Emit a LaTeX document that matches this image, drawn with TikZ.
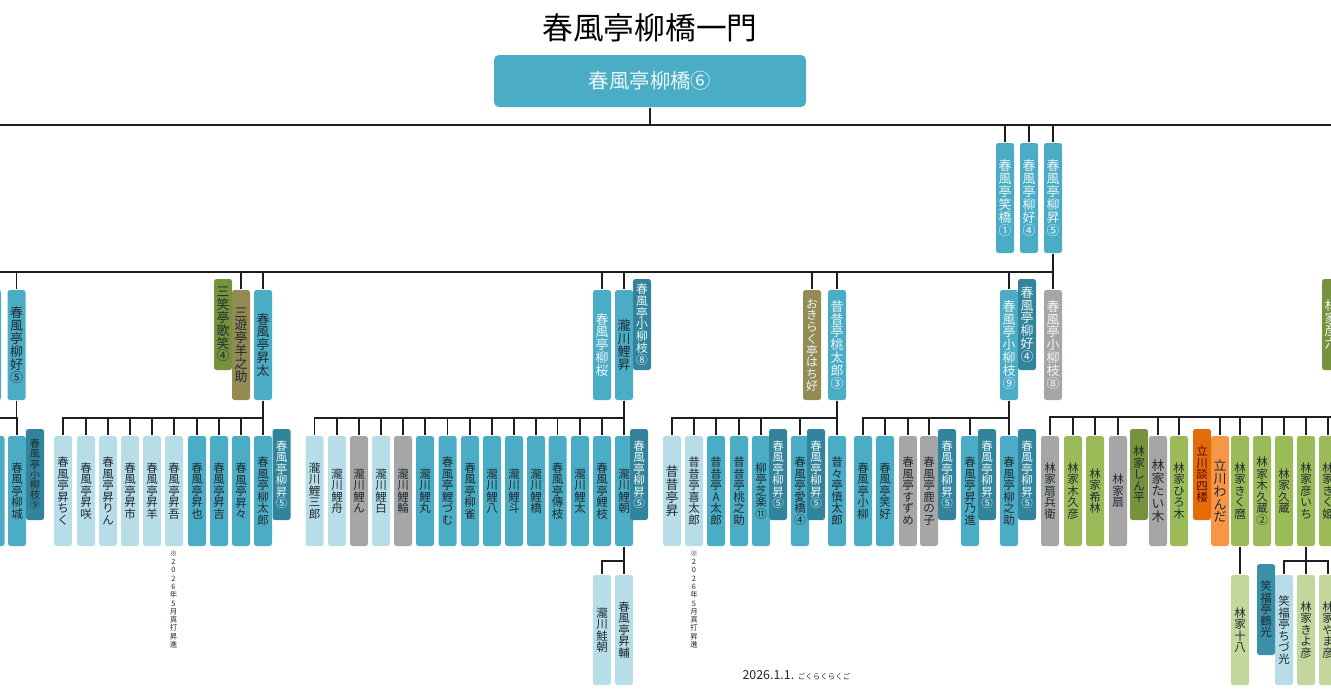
\documentclass[tikz,border=0pt]{standalone}
\usepackage{fontspec}
\setmainfont{Noto Sans CJK JP}

\definecolor{kblue}{HTML}{4BACC6}
\definecolor{kdeep}{HTML}{31849B}
\definecolor{klight}{HTML}{B7DDE8}
\definecolor{kgray}{HTML}{A6A6A6}
\definecolor{kgreen}{HTML}{9BBB59}
\definecolor{kpale}{HTML}{C3D69B}
\definecolor{kolive}{HTML}{76923C}
\definecolor{kbrown}{HTML}{948A54}
\definecolor{korange}{HTML}{F79646}
\definecolor{kdark}{HTML}{E36C09}
\definecolor{kink}{HTML}{202A30}
\definecolor{kline}{HTML}{1E1E1E}

% one glyph per line
\makeatletter
\newcommand{\tate}[1]{\vbox{\lineskiplimit=-100pt\lineskip=0pt
  \@tfor\tatechar:=#1\do{\hbox to 1em{\hss\tatechar\hss}}}}
\makeatother

\tikzset{
  memb/.style={rectangle, rounded corners=2.5pt, minimum width=18, minimum height=110,
    inner sep=0, text=kink, font=\fontsize{11.5}{11.5}\selectfont},
  side/.style={memb, minimum height=91},
  big/.style={font=\fontsize{12.9}{12.9}\selectfont},
  tight/.style={font=\fontsize{10.2}{10.2}\selectfont},
  mid/.style={font=\fontsize{11.7}{11.7}\selectfont},
  pale/.style={text=white!90!kblue},
  bus/.style={to path={(\tikztostart.south) -- ++(0,#1) -| (\tikztotarget.north)}},
  drop/.style={to path={(\tikztostart) -| (\tikztotarget.north)}},
  note/.style={inner sep=0, text=kink, font=\fontsize{7.4}{8.3}\selectfont}
}

\begin{document}
\begin{tikzpicture}[x=1pt, y=-1pt, line width=1.5pt, draw=kline]
  \path [use as bounding box, clip] (0,0) rectangle (1331,696);

  \node (title) [inner sep=0, font=\fontsize{30.7}{31}\selectfont] at (650,28) {春風亭柳橋一門};
  \node (root) [rectangle, rounded corners=5pt, fill=kblue, pale, minimum width=312,
    minimum height=52, inner sep=0, font=\fontsize{20.4}{21}\selectfont] at (650,81) {春風亭柳橋⑥};
  \node (stamp) [inner sep=0, text=kink] at (796.5,675.5)
    {\fontsize{12.4}{12}\selectfont 2026.1.1. \fontsize{7.5}{12}\selectfont ごくらくらくご};

  % first row
  \node (shokyo1) [memb, big, pale, fill=kblue] at (1005,198) {\tate{春風亭笑橋①}};
  \node (ryuko4) [memb, big, pale, fill=kblue] at (1029,198) {\tate{春風亭柳好④}};
  \node (ryusho5) [memb, big, pale, fill=kblue] at (1053,198) {\tate{春風亭柳昇⑤}};

  % second row
  \node (edge2) [memb, fill=kblue] at (-8,345) {};
  \node (ryuko5) [memb, big, fill=kblue] at (16.5,345) {\tate{春風亭柳好⑤}};
  \node (yonosuke) [memb, big, fill=kbrown] at (241,345) {\tate{三遊亭羊之助}};
  \node (shota) [memb, big, fill=kblue] at (263,345) {\tate{春風亭昇太}};
  \node (ryuo) [memb, big, pale, fill=kblue] at (602,345) {\tate{春風亭柳桜}};
  \node (risho) [memb, big, fill=kblue] at (624,345) {\tate{瀧川鯉昇}};
  \node (hachiko) [memb, mid, pale, fill=kbrown] at (812,345) {\tate{おきらく亭はち好}};
  \node (momotaro) [memb, big, pale, fill=kblue] at (837,345) {\tate{昔昔亭桃太郎③}};
  \node (koryu9) [memb, big, pale, fill=kblue] at (1009,345) {\tate{春風亭小柳枝⑨}};
  \node (koryu8) [memb, big, pale, fill=kgray] at (1053,345) {\tate{春風亭小柳枝⑧}};

  \node (kasho4) [side, big, fill=kolive] at (223,324.5) {\tate{三笑亭歌笑④}};
  \node (s2koryu8) [side, mid, pale, fill=kdeep] at (642,324.5) {\tate{春風亭小柳枝⑧}};
  \node (s2ryuko4) [side, big, pale, fill=kdeep] at (1027,324.5) {\tate{春風亭柳好④}};
  \node (hikoroku) [side, big, pale, fill=kolive] at (1331,324.5) {\tate{林家彦六}};

  % third row, ryuko
  \node (edge3) [memb, fill=kblue] at (-4.5,491) {};
  \node (ryujo) [memb, fill=kblue] at (17,491) {\tate{春風亭柳城}};
  % third row, shota
  \node (chiku) [memb, fill=klight] at (63,491) {\tate{春風亭昇ちく}};
  \node (shosaku) [memb, fill=klight] at (86,491) {\tate{春風亭昇咲}};
  \node (shorin) [memb, fill=klight] at (108,491) {\tate{春風亭昇りん}};
  \node (shoichi) [memb, fill=klight] at (130,491) {\tate{春風亭昇市}};
  \node (shoyo) [memb, fill=klight] at (152,491) {\tate{春風亭昇羊}};
  \node (shogo) [memb, fill=klight] at (174,491) {\tate{春風亭昇吾}};
  \node (shoya) [memb, fill=kblue] at (197,491) {\tate{春風亭昇也}};
  \node (shokichi) [memb, fill=kblue] at (219,491) {\tate{春風亭昇吉}};
  \node (shosho) [memb, fill=kblue] at (241,491) {\tate{春風亭昇々}};
  \node (ryutaro) [memb, fill=kblue] at (263,491) {\tate{春風亭柳太郎}};
  % third row, risho
  \node (risaburo) [memb, fill=klight] at (314.5,491) {\tate{瀧川鯉三郎}};
  \node (rishu) [memb, fill=klight] at (337,491) {\tate{瀧川鯉舟}};
  \node (rin) [memb, fill=kgray] at (359,491) {\tate{瀧川鯉ん}};
  \node (rihaku) [memb, fill=klight] at (381,491) {\tate{瀧川鯉白}};
  \node (riwa) [memb, fill=kgray] at (403,491) {\tate{瀧川鯉輪}};
  \node (rimaru) [memb, fill=kblue] at (425,491) {\tate{瀧川鯉丸}};
  \node (ritsumu) [memb, fill=kblue] at (447.5,491) {\tate{春風亭鯉づむ}};
  \node (ryujaku) [memb, fill=kblue] at (470,491) {\tate{春風亭柳雀}};
  \node (rihachi) [memb, fill=kblue] at (492,491) {\tate{瀧川鯉八}};
  \node (rito) [memb, fill=kblue] at (514,491) {\tate{瀧川鯉斗}};
  \node (rikyo) [memb, fill=kblue] at (536,491) {\tate{瀧川鯉橋}};
  \node (denshi) [memb, fill=kblue] at (557.5,491) {\tate{春風亭傳枝}};
  \node (rita) [memb, fill=kblue] at (580,491) {\tate{瀧川鯉太}};
  \node (rishi) [memb, fill=kblue] at (602,491) {\tate{春風亭鯉枝}};
  \node (richo) [memb, fill=kblue] at (624,491) {\tate{瀧川鯉朝}};
  % third row, momotaro
  \node (imasho) [memb, big, fill=klight] at (672,491) {\tate{昔昔亭昇}};
  \node (kitaro) [memb, fill=klight] at (694,491) {\tate{昔昔亭喜太郎}};
  \node (ataro) [memb, fill=kblue] at (716,491) {\tate{昔昔亭A太郎}};
  \node (tonosuke) [memb, fill=kblue] at (739,491) {\tate{昔昔亭桃之助}};
  \node (shiraku) [memb, fill=kblue] at (761,491) {\tate{柳亭芝楽⑪}};
  \node (aikyo) [memb, fill=kblue] at (800,491) {\tate{春風亭愛橋④}};
  \node (shintaro) [memb, fill=kblue] at (837,491) {\tate{昔々亭慎太郎}};
  % third row, koryu9
  \node (koyanagi) [memb, fill=kblue] at (863,491) {\tate{春風亭小柳}};
  \node (shoko) [memb, fill=kblue] at (885,491) {\tate{春風亭笑好}};
  \node (suzume) [memb, fill=kgray] at (908,491) {\tate{春風亭すずめ}};
  \node (kanoko) [memb, fill=kgray] at (929,491) {\tate{春風亭鹿の子}};
  \node (shonoshin) [memb, fill=kblue] at (970,491) {\tate{春風亭昇乃進}};
  \node (ryunosuke) [memb, fill=kblue] at (1009,491) {\tate{春風亭柳之助}};
  % third row, hayashi
  \node (senbei) [memb, fill=kgray] at (1050,491) {\tate{林家扇兵衛}};
  \node (kikuhiko) [memb, fill=kgreen] at (1073,491) {\tate{林家木久彦}};
  \node (kirin) [memb, fill=kgreen] at (1095,491) {\tate{林家希林}};
  \node (ogi) [memb, fill=kgray] at (1118,491) {\tate{林家扇}};
  \node (taiki) [memb, big, fill=kgray] at (1158,491) {\tate{林家たい木}};
  \node (hiroki) [memb, fill=kgreen] at (1179,491) {\tate{林家ひろ木}};
  \node (wanda) [memb, big, fill=korange] at (1220,491) {\tate{立川わんだ}};
  \node (kikumaro) [memb, fill=kgreen] at (1240,491) {\tate{林家きく麿}};
  \node (kikuzo2) [memb, fill=kgreen] at (1262,491) {\tate{林家木久蔵②}};
  \node (kyuzo) [memb, fill=kgreen] at (1284,491) {\tate{林家久蔵}};
  \node (hikoichi) [memb, fill=kgreen] at (1306,491) {\tate{林家彦いち}};
  \node (kikuhime) [memb, fill=kgreen] at (1328,491) {\tate{林家きく姫}};

  \node (s3koryu9) [side, tight, fill=kdeep] at (35,474.5) {\tate{春風亭小柳枝⑨}};
  \node (s3ryusho1) [side, pale, fill=kdeep] at (281.5,474.5) {\tate{春風亭柳昇⑤}};
  \node (s3ryusho2) [side, pale, fill=kdeep] at (639,474.5) {\tate{春風亭柳昇⑤}};
  \node (s3ryusho3) [side, pale, fill=kdeep] at (778,474.5) {\tate{春風亭柳昇⑤}};
  \node (s3ryusho4) [side, pale, fill=kdeep] at (816,474.5) {\tate{春風亭柳昇⑤}};
  \node (s3ryusho5) [side, pale, fill=kdeep] at (947,474.5) {\tate{春風亭柳昇⑤}};
  \node (s3ryusho6) [side, pale, fill=kdeep] at (987,474.5) {\tate{春風亭柳昇⑤}};
  \node (s3ryusho7) [side, pale, fill=kdeep] at (1027,474.5) {\tate{春風亭柳昇⑤}};
  \node (shinpei) [side, fill=kolive] at (1139,474.5) {\tate{林家しん平}};
  \node (danshiro) [side, fill=kdark, text=red!35!black] at (1202,474.5) {\tate{立川談四楼}};

  % fourth row
  \node (keicho) [memb, fill=klight] at (602,630) {\tate{瀧川鮭朝}};
  \node (shosuke) [memb, fill=klight] at (624,630) {\tate{春風亭昇輔}};
  \node (juhachi) [memb, fill=kpale] at (1240,630) {\tate{林家十八}};
  \node (chizuko) [memb, fill=klight] at (1284,630) {\tate{笑福亭ちづ光}};
  \node (kiyohiko) [memb, fill=kpale] at (1306,630) {\tate{林家きよ彦}};
  \node (yamahiko) [memb, fill=kpale] at (1328,630) {\tate{林家やま彦}};
  \node (tsuruko) [side, fill=kdeep!70!kblue] at (1266,609.5) {\tate{笑福亭鶴光}};

  % notes
  \node (note1) [note, anchor=north] at (173.5,550) {\tate{※2026年5月真打昇進}};
  \node (note2) [note, anchor=north] at (694,550) {\tate{※2026年5月真打昇進}};

  % free ends past the page
  \coordinate (topleft) at (-20,143);
  \coordinate (topright) at (1350,143);
  \coordinate (hayashi) at (1350,417);

  \draw (root.south) -- ++(0,17) -| (topleft);
  \draw (root.south) -- ++(0,17) -| (topright);

  \path
    (root) edge [bus=17] (shokyo1)
    (root) edge [bus=17] (ryuko4)
    (root) edge [bus=17] (ryusho5)
    (ryusho5) edge [bus=18] (edge2)
    (ryusho5) edge [bus=18] (ryuko5)
    (ryusho5) edge [bus=18] (yonosuke)
    (ryusho5) edge [bus=18] (shota)
    (ryusho5) edge [bus=18] (ryuo)
    (ryusho5) edge [bus=18] (risho)
    (ryusho5) edge [bus=18] (hachiko)
    (ryusho5) edge [bus=18] (momotaro)
    (ryusho5) edge [bus=18] (koryu9)
    (ryusho5) edge [bus=18] (koryu8)
    (ryuko5) edge [bus=17] (edge3)
    (ryuko5) edge [bus=17] (ryujo)
    (shota) edge [bus=17] (chiku)
    (shota) edge [bus=17] (shosaku)
    (shota) edge [bus=17] (shorin)
    (shota) edge [bus=17] (shoichi)
    (shota) edge [bus=17] (shoyo)
    (shota) edge [bus=17] (shogo)
    (shota) edge [bus=17] (shoya)
    (shota) edge [bus=17] (shokichi)
    (shota) edge [bus=17] (shosho)
    (shota) edge [bus=17] (ryutaro)
    (risho) edge [bus=17] (risaburo)
    (risho) edge [bus=17] (rishu)
    (risho) edge [bus=17] (rin)
    (risho) edge [bus=17] (rihaku)
    (risho) edge [bus=17] (riwa)
    (risho) edge [bus=17] (rimaru)
    (risho) edge [bus=17] (ritsumu)
    (risho) edge [bus=17] (ryujaku)
    (risho) edge [bus=17] (rihachi)
    (risho) edge [bus=17] (rito)
    (risho) edge [bus=17] (rikyo)
    (risho) edge [bus=17] (denshi)
    (risho) edge [bus=17] (rita)
    (risho) edge [bus=17] (rishi)
    (risho) edge [bus=17] (richo)
    (momotaro) edge [bus=17] (imasho)
    (momotaro) edge [bus=17] (kitaro)
    (momotaro) edge [bus=17] (ataro)
    (momotaro) edge [bus=17] (tonosuke)
    (momotaro) edge [bus=17] (shiraku)
    (momotaro) edge [bus=17] (aikyo)
    (momotaro) edge [bus=17] (shintaro)
    (koryu9) edge [bus=17] (koyanagi)
    (koryu9) edge [bus=17] (shoko)
    (koryu9) edge [bus=17] (suzume)
    (koryu9) edge [bus=17] (kanoko)
    (koryu9) edge [bus=17] (shonoshin)
    (koryu9) edge [bus=17] (ryunosuke)
    (hayashi) edge [drop] (senbei)
    (hayashi) edge [drop] (kikuhiko)
    (hayashi) edge [drop] (kirin)
    (hayashi) edge [drop] (ogi)
    (hayashi) edge [drop] (taiki)
    (hayashi) edge [drop] (hiroki)
    (hayashi) edge [drop] (wanda)
    (hayashi) edge [drop] (kikumaro)
    (hayashi) edge [drop] (kikuzo2)
    (hayashi) edge [drop] (kyuzo)
    (hayashi) edge [drop] (hikoichi)
    (hayashi) edge [drop] (kikuhime)
    (richo) edge [bus=14] (keicho)
    (richo) edge [bus=14] (shosuke)
    (kikumaro) edge [bus=14] (juhachi)
    (hikoichi) edge [bus=14] (chizuko)
    (hikoichi) edge [bus=14] (kiyohiko)
    (hikoichi) edge [bus=14] (yamahiko);
\end{tikzpicture}
\end{document}
